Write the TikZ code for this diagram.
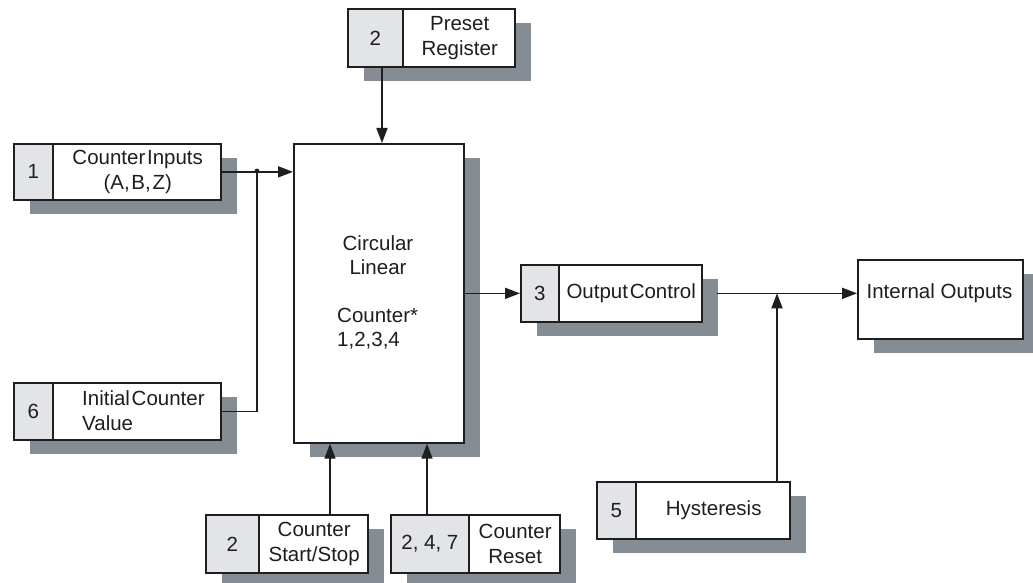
\documentclass[tikz,border=0pt]{standalone}
\usepackage{fontspec}
\setmainfont{Liberation Sans}
\newfontfamily\tightfont{Liberation Sans}[WordSpace=0.3]
\usetikzlibrary{arrows.meta,calc,shadows}
\definecolor{shgray}{HTML}{868C93}
\definecolor{cellgray}{HTML}{E2E4E8}
\definecolor{ink}{HTML}{1E1E1E}
\tikzset{
  outerbox/.style={draw=ink, line width=1.7pt, fill=white, inner sep=0pt,
    drop shadow={fill=shgray, opacity=1, shadow xshift=16pt, shadow yshift=-14pt}},
  numcell/.style={draw=ink, line width=1.7pt, fill=cellgray, inner sep=0pt, text=ink},
  boxtext/.style={align=center, inner sep=0pt, text=ink},
  arr/.style={draw=ink, line width=1.7pt, -{Triangle[length=15pt,width=11pt]}},
  wire/.style={draw=ink, line width=1.7pt},
}
% #1 name, #2 left x, #3 top y, #4 width, #5 height, #6 cell width, #7 number, #8 text
\newcommand\numbox[8]{%
  \node[outerbox, minimum width=#4pt, minimum height=#5pt, anchor=north west] (#1) at (#2,#3) {};
  \node[numcell, minimum width=#6pt, minimum height=#5pt, anchor=north west] (#1n) at (#1.north west) {#7};
  \node[boxtext] (#1t) at ($(#1n.east)!0.5!(#1.east)$) {#8};
}
\begin{document}
\begin{tikzpicture}[x=1pt,y=-1pt]
\fontsize{20.5}{24.5}\selectfont
\useasboundingbox (0,0) rectangle (1033,583);

% main counter block
\node[outerbox, minimum width=170pt, minimum height=299pt, anchor=north west] (main) at (293,143) {};
\node[boxtext] (mainA) at (378,255) {Circular\\Linear};
\node[boxtext, align=left, anchor=west] (mainB) at (337,328.5) {Counter*\\1,2,3,4};

\numbox{ci}{13}{143}{207}{56}{39}{1}{{\tightfont Counter Inputs}\\{\tightfont (A, B, Z)}}
\numbox{ic}{13}{382}{207}{57}{39}{6}{}
\node[boxtext, align=left, anchor=west] (ict) at (82,410.5) {{\tightfont Initial Counter}\\Value};
\numbox{pr}{347}{8}{167}{58}{55}{2}{Preset\\Register}
\numbox{ss}{205}{514}{162}{58}{53}{2}{Counter\\Start/Stop}
\numbox{cr}{390}{514}{169}{58}{78}{2, 4, 7}{Counter\\Reset}
\numbox{oc}{520}{264}{181}{57}{38}{3}{{\tightfont Output Control}}
\numbox{hy}{596}{481}{193}{57}{39}{5}{Hysteresis}

\node[outerbox, minimum width=165pt, minimum height=79pt, anchor=north west] (io) at (857,259) {};
\node[boxtext] (iot) at (939.5,293) {Internal Outputs};

% connectors
\coordinate (j1) at (257,171);
\draw[arr] (ci.east) -- (main.west |- ci.east);
\fill[ink] (j1) circle (2.4pt);
\draw[wire] (ic.east) -- (j1 |- ic.east) -- (j1);

\coordinate (xa) at (382,0);
\draw[arr] (prn.south -| xa) -- (main.north -| xa);

\coordinate (xb) at (330,0);
\draw[arr] (ss.north -| xb) -- (main.south -| xb);
\coordinate (xc) at (427,0);
\draw[arr] (cr.north -| xc) -- (main.south -| xc);

\draw[arr] (main.east |- oc.west) -- (oc.west);
\coordinate (ocr) at ($(oc.east)+(14,0)$);
\draw[arr] (ocr) -- (io.west |- ocr);
\coordinate (xd) at (777,0);
\draw[arr] (hy.north -| xd) -- (ocr -| xd);
\end{tikzpicture}
\end{document}
